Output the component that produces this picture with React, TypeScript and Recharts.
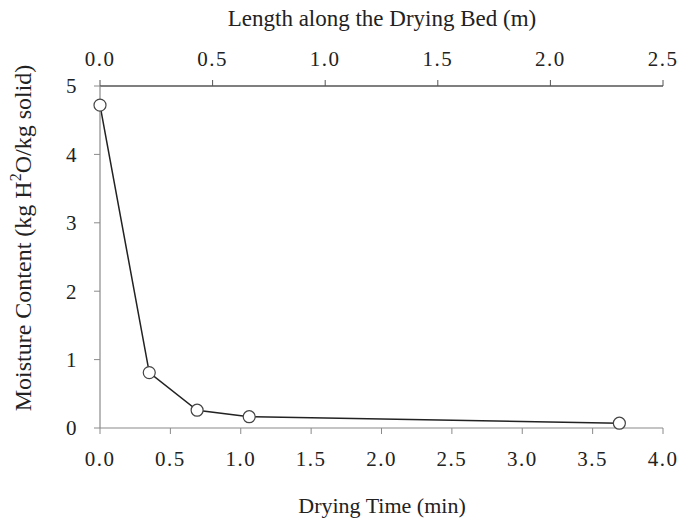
import React from "react";
import {
  LineChart,
  Line,
  XAxis,
  YAxis,
  Label,
} from "recharts";

// drying time (min) vs moisture content (kg H2O / kg solid)
const dryingTime = [0, 0.35, 0.69, 1.06, 3.69];
const moisture = [4.72, 0.81, 0.26, 0.165, 0.07];

const timeTicks = [0, 0.5, 1, 1.5, 2, 2.5, 3, 3.5, 4];
const lengthTicks = [0, 0.5, 1, 1.5, 2, 2.5];
const moistureTicks = [0, 1, 2, 3, 4, 5];

// bed length 2.5 m corresponds to 4.0 min on the time axis
const minPerMetre = 4 / 2.5;

const data = dryingTime.map((t, i) => ({ time: t, moisture: moisture[i] }));

const FONT = "'Liberation Serif', 'Times New Roman', serif";
const tickStyle = { fontFamily: FONT, fontSize: 21, fill: "#222", letterSpacing: 1.5 };

const fmt = (v: number) => v.toFixed(1);

function YTitle(props: any) {
  const cx = 31;
  const cy = 238;
  return (
    <text
      transform={`translate(${cx},${cy}) rotate(-90)`}
      textAnchor="middle"
      fontFamily={FONT}
      fontSize={24}
      fill="#222"
    >
      <tspan>Moisture Content (kg H</tspan>
      <tspan fontSize={16} dy={-10}>2</tspan>
      <tspan dy={10}>O/kg solid)</tspan>
    </text>
  );
}

function TopTitle(props: any) {
  return (
    <text x={382} y={26} textAnchor="middle" fontFamily={FONT} fontSize={23} fill="#222">
      Length along the Drying Bed (m)
    </text>
  );
}

function BottomTitle(props: any) {
  return (
    <text x={382} y={513} textAnchor="middle" fontFamily={FONT} fontSize={22} fill="#222">
      Drying Time (min)
    </text>
  );
}

export default function App() {
  return (
    <div style={{ position: "absolute", left: 0, top: 0, background: "#fff" }}>
      <LineChart
        width={692}
        height={526}
        data={data}
        margin={{ top: 0, right: 29, left: 0, bottom: 0 }}
      >
        <XAxis
          xAxisId="bottom"
          dataKey="time"
          type="number"
          orientation="bottom"
          domain={[0, 4]}
          ticks={timeTicks}
          tickFormatter={fmt}
          height={98}
          tickSize={6}
          tickMargin={17}
          tick={tickStyle}
          axisLine={{ stroke: "#8a8a8a", strokeWidth: 1.2 }}
          tickLine={{ stroke: "#8a8a8a" }}
          interval={0}
        >
          <Label content={<BottomTitle />} />
        </XAxis>
        <XAxis
          xAxisId="top"
          dataKey="time"
          type="number"
          orientation="top"
          domain={[0, 4]}
          ticks={lengthTicks.map((l) => l * minPerMetre)}
          tickFormatter={(v: number) => fmt(v / minPerMetre)}
          height={86}
          tickSize={6}
          tickMargin={14}
          tick={tickStyle}
          axisLine={{ stroke: "#555", strokeWidth: 1.3 }}
          tickLine={{ stroke: "#555" }}
          interval={0}
        >
          <Label content={<TopTitle />} />
        </XAxis>
        <YAxis
          yAxisId="left"
          type="number"
          domain={[0, 5]}
          ticks={moistureTicks}
          width={100}
          tickSize={6}
          tickMargin={16}
          tick={tickStyle}
          axisLine={{ stroke: "#8a8a8a", strokeWidth: 1.2 }}
          tickLine={{ stroke: "#8a8a8a" }}
          interval={0}
        >
          <Label content={<YTitle />} />
        </YAxis>
        <YAxis
          yAxisId="right"
          orientation="right"
          type="number"
          domain={[0, 5]}
          width={0}
          tick={false}
          tickLine={false}
          axisLine={{ stroke: "#8a8a8a", strokeWidth: 1.2 }}
        />
        <Line
          xAxisId="bottom"
          yAxisId="left"
          dataKey="moisture"
          type="linear"
          stroke="#222"
          strokeWidth={1.5}
          dot={{ r: 6, fill: "#fff", stroke: "#444", strokeWidth: 1.2 }}
          isAnimationActive={false}
        />
      </LineChart>
    </div>
  );
}
